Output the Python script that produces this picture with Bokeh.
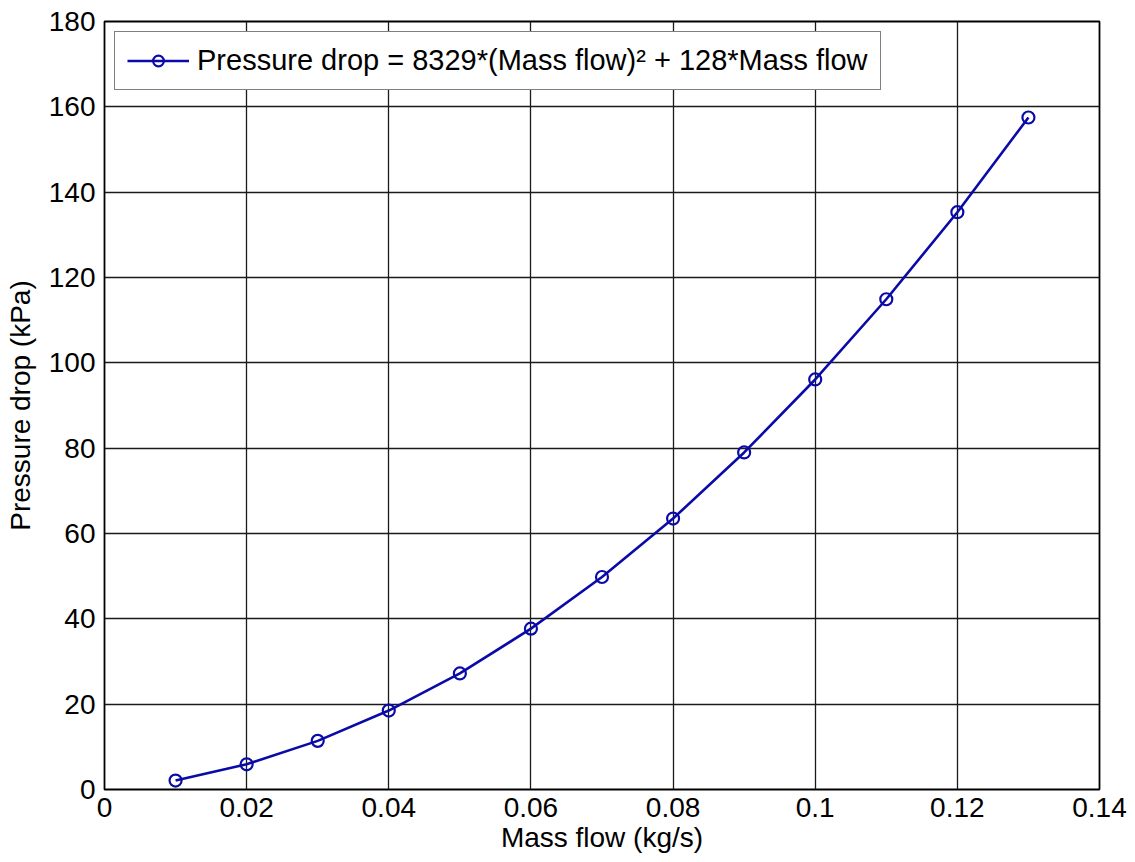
from bokeh.plotting import figure
from bokeh.models import Range1d, FixedTicker, Legend, LegendItem, CustomJSTickFormatter
from bokeh.embed import file_html
from bokeh.resources import INLINE

mass_flow = [0.01, 0.02, 0.03, 0.04, 0.05, 0.06, 0.07, 0.08, 0.09, 0.10, 0.11, 0.12, 0.13]
pressure_drop = [2.1, 5.9, 11.4, 18.5, 27.2, 37.7, 49.8, 63.5, 79.0, 96.1, 114.9, 135.3, 157.5]
x_ticks = [0, 0.02, 0.04, 0.06, 0.08, 0.1, 0.12, 0.14]
y_ticks = [0, 20, 40, 60, 80, 100, 120, 140, 160, 180]
legend_label = "Pressure drop = 8329*(Mass flow)\u00b2 + 128*Mass flow"

FONT = "Liberation Sans"
BLUE = "#0a0aa8"

p = figure(width=1135, height=862, frame_width=995, frame_height=768,
           output_backend="svg", toolbar_location=None,
           x_range=Range1d(0, 0.14), y_range=Range1d(0, 180),
           min_border_left=104, min_border_right=36, min_border_top=21, min_border_bottom=73)
p.background_fill_color = "white"
p.border_fill_color = "white"
p.outline_line_color = "black"
p.outline_line_width = 1.8

for ax in (p.xaxis[0], p.yaxis[0]):
    ax.major_tick_in = 0
    ax.major_tick_out = 0
    ax.minor_tick_line_color = None
    ax.axis_line_color = None
    ax.major_label_text_font = FONT
    ax.major_label_text_font_size = "28px"
    ax.major_label_text_color = "black"
    ax.axis_label_text_font = FONT
    ax.axis_label_text_font_size = "28px"
    ax.axis_label_text_font_style = "normal"
    ax.axis_label_text_color = "black"

p.xaxis.ticker = FixedTicker(ticks=x_ticks)
p.yaxis.ticker = FixedTicker(ticks=y_ticks)
p.xaxis.formatter = CustomJSTickFormatter(code="return String(Math.round(tick*100)/100);")
p.yaxis.formatter = CustomJSTickFormatter(code="return String(tick);")
p.xaxis.major_label_standoff = 8
p.yaxis.major_label_standoff = 9
p.xaxis.axis_label = "Mass flow (kg/s)"
p.yaxis.axis_label = "Pressure drop (kPa)"
p.xaxis.axis_label_standoff = 2
p.yaxis.axis_label_standoff = 10

p.xgrid.ticker = FixedTicker(ticks=x_ticks)
p.ygrid.ticker = FixedTicker(ticks=y_ticks)
for g in (p.xgrid[0], p.ygrid[0]):
    g.grid_line_color = "#1a1a1a"
    g.grid_line_width = 1.3
    g.grid_line_alpha = 1.0

ln = p.line(mass_flow, pressure_drop, line_color=BLUE, line_width=2.6)
sc = p.scatter(mass_flow, pressure_drop, marker="circle", size=12,
               fill_color=None, line_color=BLUE, line_width=2.2)

legend = Legend(items=[LegendItem(label=legend_label, renderers=[ln, sc])],
                location="top_left", margin=10, padding=12, spacing=0,
                glyph_width=62, glyph_height=27, label_height=27, label_standoff=8,
                label_text_font=FONT, label_text_font_size="29px", label_text_color="black",
                border_line_color="black", border_line_width=1.6,
                background_fill_color="white", background_fill_alpha=1.0)
p.add_layout(legend)

open("out.html", "w").write(file_html(p, INLINE))
